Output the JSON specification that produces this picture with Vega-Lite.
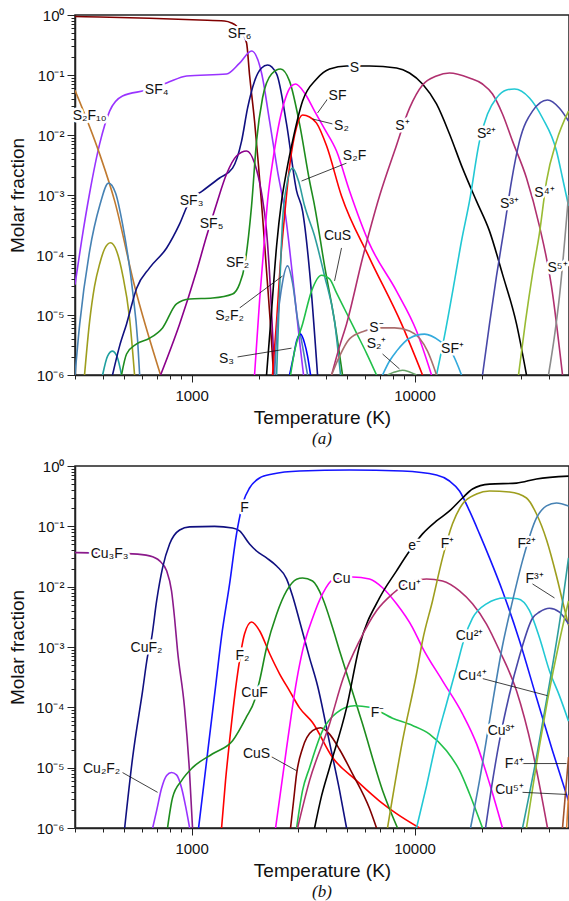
{
"$schema": "https://vega.github.io/schema/vega-lite/v6.json",
"background": "white",
"padding": {"left": 8, "top": 7, "right": 0, "bottom": 0},
"spacing": 10,
"config": {
 "font": "Liberation Sans",
 "view": {"stroke": "#222", "strokeWidth": 1.5},
 "axis": {"domainColor": "#222", "domainWidth": 1.5, "tickColor": "#222", "tickWidth": 1, "labelColor": "#111", "titleColor": "#111", "labelFont": "Liberation Sans", "titleFont": "Liberation Sans", "labelFontSize": 15, "titleFontSize": 19, "titleFontWeight": "normal", "grid": false, "labelOverlap": false, "labelFlush": false},
 "text": {"font": "Liberation Sans", "fontSize": 14}
},
"datasets": {
 "a_curves": [
  {"s":"SF6","T":300,"y":0.944},{"s":"SF6","T":387,"y":0.926},{"s":"SF6","T":648,"y":0.881},{"s":"SF6","T":1086,"y":0.825},{"s":"SF6","T":1404,"y":0.794},{"s":"SF6","T":1511,"y":0.736},{"s":"SF6","T":1591,"y":0.655},{"s":"SF6","T":1676,"y":0.52},{"s":"SF6","T":1765,"y":0.341},{"s":"SF6","T":1820,"y":0.1},{"s":"SF6","T":1916,"y":0.0171},{"s":"SF6","T":1997,"y":0.00304},{"s":"SF6","T":2081,"y":0.000447},{"s":"SF6","T":2169,"y":0.000054},{"s":"SF6","T":2261,"y":0.0000066},{"s":"SF6","T":2332,"y":0.000001},
  {"s":"SF4","T":300,"y":0.000032},{"s":"SF4","T":321,"y":0.000171},{"s":"SF4","T":349,"y":0.00108},{"s":"SF4","T":387,"y":0.0071},{"s":"SF4","T":429,"y":0.025},{"s":"SF4","T":490,"y":0.0447},{"s":"SF4","T":628,"y":0.056},{"s":"SF4","T":773,"y":0.0736},{"s":"SF4","T":950,"y":0.096},{"s":"SF4","T":1435,"y":0.104},{"s":"SF4","T":1642,"y":0.158},{"s":"SF4","T":1858,"y":0.251},{"s":"SF4","T":2060,"y":0.108},{"s":"SF4","T":2238,"y":0.0171},{"s":"SF4","T":2430,"y":0.0025},{"s":"SF4","T":2640,"y":0.000447},{"s":"SF4","T":2838,"y":0.0000447},{"s":"SF4","T":3050,"y":0.0000037},{"s":"SF4","T":3178,"y":0.000001},
  {"s":"S2F10","T":300,"y":0.0556},{"s":"S2F10","T":387,"y":0.0048},{"s":"S2F10","T":452,"y":0.00079},{"s":"S2F10","T":555,"y":0.0000304},{"s":"S2F10","T":726,"y":0.000001},
  {"s":"st","T":300,"y":0.000001},{"s":"st","T":315,"y":0.0000071},{"s":"st","T":349,"y":0.000117},{"s":"st","T":387,"y":0.00066},{"s":"st","T":424,"y":0.00158},{"s":"st","T":456,"y":0.00108},{"s":"st","T":490,"y":0.00033},{"s":"st","T":544,"y":0.000025},{"s":"st","T":573,"y":0.0000037},{"s":"st","T":585,"y":0.000001},
  {"s":"ol","T":331,"y":0.000001},{"s":"ol","T":349,"y":0.0000079},{"s":"ol","T":367,"y":0.00003},{"s":"ol","T":387,"y":0.000071},{"s":"ol","T":407,"y":0.000126},{"s":"ol","T":433,"y":0.00016},{"s":"ol","T":461,"y":0.000117},{"s":"ol","T":490,"y":0.000048},{"s":"ol","T":527,"y":0.0000089},{"s":"ol","T":555,"y":0.000001},
  {"s":"tl","T":399,"y":0.000001},{"s":"tl","T":420,"y":0.00000207},{"s":"tl","T":442,"y":0.0000025},{"s":"tl","T":466,"y":0.0000019},{"s":"tl","T":485,"y":0.000001},
  {"s":"SF3","T":442,"y":0.000001},{"s":"SF3","T":475,"y":0.000003},{"s":"SF3","T":511,"y":0.0000071},{"s":"SF3","T":567,"y":0.000028},{"s":"SF3","T":648,"y":0.000061},{"s":"SF3","T":773,"y":0.000131},{"s":"SF3","T":884,"y":0.00033},{"s":"SF3","T":980,"y":0.00079},{"s":"SF3","T":1120,"y":0.00117},{"s":"SF3","T":1335,"y":0.00192},{"s":"SF3","T":1527,"y":0.0028},{"s":"SF3","T":1676,"y":0.0079},{"s":"SF3","T":1783,"y":0.028},{"s":"SF3","T":1916,"y":0.079},{"s":"SF3","T":2060,"y":0.131},{"s":"SF3","T":2192,"y":0.147},{"s":"SF3","T":2406,"y":0.104},{"s":"SF3","T":2667,"y":0.0153},{"s":"SF3","T":2958,"y":0.00117},{"s":"SF3","T":3147,"y":0.00054},{"s":"SF3","T":3382,"y":0.000054},{"s":"SF3","T":3673,"y":0.000001},
  {"s":"SF5","T":726,"y":0.000001},{"s":"SF5","T":884,"y":0.0000071},{"s":"SF5","T":1053,"y":0.000054},{"s":"SF5","T":1168,"y":0.000207},{"s":"SF5","T":1294,"y":0.00071},{"s":"SF5","T":1435,"y":0.00224},{"s":"SF5","T":1591,"y":0.00447},{"s":"SF5","T":1765,"y":0.0054},{"s":"SF5","T":1916,"y":0.0034},{"s":"SF5","T":2060,"y":0.00108},{"s":"SF5","T":2169,"y":0.00025},{"s":"SF5","T":2261,"y":0.000025},{"s":"SF5","T":2356,"y":0.000001},
  {"s":"SF2","T":485,"y":0.000001},{"s":"SF2","T":511,"y":0.00000224},{"s":"SF2","T":567,"y":0.0000033},{"s":"SF2","T":648,"y":0.0000041},{"s":"SF2","T":741,"y":0.0000061},{"s":"SF2","T":856,"y":0.0000153},{"s":"SF2","T":980,"y":0.0000185},{"s":"SF2","T":1243,"y":0.0000192},{"s":"SF2","T":1527,"y":0.0000224},{"s":"SF2","T":1642,"y":0.000033},{"s":"SF2","T":1729,"y":0.000066},{"s":"SF2","T":1801,"y":0.000207},{"s":"SF2","T":1858,"y":0.00066},{"s":"SF2","T":1956,"y":0.0079},{"s":"SF2","T":2081,"y":0.0414},{"s":"SF2","T":2284,"y":0.104},{"s":"SF2","T":2506,"y":0.126},{"s":"SF2","T":2751,"y":0.079},{"s":"SF2","T":3050,"y":0.0153},{"s":"SF2","T":3382,"y":0.00171},{"s":"SF2","T":3562,"y":0.00066},{"s":"SF2","T":3949,"y":0.000066},{"s":"SF2","T":4378,"y":0.0000079},{"s":"SF2","T":4753,"y":0.000001},
  {"s":"SF","T":1916,"y":0.000001},{"s":"SF","T":2018,"y":0.0000171},{"s":"SF","T":2103,"y":0.000117},{"s":"SF","T":2192,"y":0.00079},{"s":"SF","T":2332,"y":0.00447},{"s":"SF","T":2481,"y":0.0171},{"s":"SF","T":2640,"y":0.0414},{"s":"SF","T":2779,"y":0.063},{"s":"SF","T":2927,"y":0.0708},{"s":"SF","T":3212,"y":0.05},{"s":"SF","T":3562,"y":0.025},{"s":"SF","T":3949,"y":0.0126},{"s":"SF","T":4468,"y":0.0054},{"s":"SF","T":5111,"y":0.00117},{"s":"SF","T":6284,"y":0.000153},{"s":"SF","T":8305,"y":0.000025},{"s":"SF","T":10209,"y":0.0000054},{"s":"SF","T":11919,"y":0.000001},
  {"s":"S2","T":2307,"y":0.000001},{"s":"S2","T":2406,"y":0.0000079},{"s":"S2","T":2506,"y":0.000079},{"s":"S2","T":2612,"y":0.000447},{"s":"S2","T":2751,"y":0.003},{"s":"S2","T":2958,"y":0.0136},{"s":"S2","T":3147,"y":0.0215},{"s":"S2","T":3382,"y":0.02},{"s":"S2","T":3636,"y":0.0158},{"s":"S2","T":4031,"y":0.0066},{"s":"S2","T":4704,"y":0.00096},{"s":"S2","T":6284,"y":0.000089},{"s":"S2","T":8745,"y":0.0000071},{"s":"S2","T":10862,"y":0.000001},
  {"s":"S","T":2169,"y":0.000001},{"s":"S","T":2284,"y":0.0000117},{"s":"S","T":2406,"y":0.000141},{"s":"S","T":2533,"y":0.00079},{"s":"S","T":2667,"y":0.0025},{"s":"S","T":2838,"y":0.0079},{"s":"S","T":3147,"y":0.0369},{"s":"S","T":3636,"y":0.0858},{"s":"S","T":4158,"y":0.126},{"s":"S","T":4956,"y":0.141},{"s":"S","T":6284,"y":0.141},{"s":"S","T":8305,"y":0.131},{"s":"S","T":9497,"y":0.108},{"s":"S","T":10862,"y":0.0708},{"s":"S","T":12548,"y":0.0329},{"s":"S","T":14353,"y":0.0104},{"s":"S","T":16414,"y":0.0028},{"s":"S","T":18967,"y":0.00079},{"s":"S","T":21693,"y":0.00025},{"s":"S","T":24803,"y":0.000048},{"s":"S","T":28668,"y":0.0000071},{"s":"S","T":31781,"y":0.000001},
  {"s":"S2F","T":2406,"y":0.000001},{"s":"S2F","T":2481,"y":0.000025},{"s":"S2F","T":2559,"y":0.00037},{"s":"S2F","T":2667,"y":0.00141},{"s":"S2F","T":2838,"y":0.0028},{"s":"S2F","T":3019,"y":0.00171},{"s":"S2F","T":3212,"y":0.00066},{"s":"S2F","T":3562,"y":0.000207},{"s":"S2F","T":3949,"y":0.0000447},{"s":"S2F","T":4378,"y":0.0000079},{"s":"S2F","T":4658,"y":0.000001},
  {"s":"S2F2","T":2356,"y":0.000001},{"s":"S2F2","T":2430,"y":0.0000079},{"s":"S2F2","T":2533,"y":0.000028},{"s":"S2F2","T":2694,"y":0.000066},{"s":"S2F2","T":2838,"y":0.000034},{"s":"S2F2","T":2988,"y":0.0000085},{"s":"S2F2","T":3147,"y":0.000003},{"s":"S2F2","T":3313,"y":0.000001},
  {"s":"S3","T":2751,"y":0.000001},{"s":"S3","T":2867,"y":0.00000207},{"s":"S3","T":2958,"y":0.0000037},{"s":"S3","T":3083,"y":0.0000048},{"s":"S3","T":3212,"y":0.0000034},{"s":"S3","T":3313,"y":0.00000207},{"s":"S3","T":3417,"y":0.000001},
  {"s":"CuS","T":2779,"y":0.000001},{"s":"CuS","T":2896,"y":0.0000025},{"s":"CuS","T":3147,"y":0.0000071},{"s":"CuS","T":3452,"y":0.000025},{"s":"CuS","T":3828,"y":0.000046},{"s":"CuS","T":4158,"y":0.00004},{"s":"CuS","T":4468,"y":0.0000233},{"s":"CuS","T":4956,"y":0.0000108},{"s":"CuS","T":5494,"y":0.000005},{"s":"CuS","T":6094,"y":0.0000023},{"s":"CuS","T":6755,"y":0.000001},
  {"s":"S+","T":4245,"y":0.000001},{"s":"S+","T":4610,"y":0.000003},{"s":"S+","T":4956,"y":0.0000071},{"s":"S+","T":5847,"y":0.000089},{"s":"S+","T":6967,"y":0.00096},{"s":"S+","T":8136,"y":0.0054},{"s":"S+","T":9497,"y":0.028},{"s":"S+","T":10862,"y":0.068},{"s":"S+","T":12548,"y":0.0963},{"s":"S+","T":14353,"y":0.108},{"s":"S+","T":17645,"y":0.089},{"s":"S+","T":20181,"y":0.0708},{"s":"S+","T":22379,"y":0.0482},{"s":"S+","T":24803,"y":0.0224},{"s":"S+","T":27516,"y":0.0079},{"s":"S+","T":31781,"y":0.00192},{"s":"S+","T":36352,"y":0.0003},{"s":"S+","T":41140,"y":0.0000304},{"s":"S+","T":46109,"y":0.000001},
  {"s":"S2+","T":12548,"y":0.000001},{"s":"S2+","T":13630,"y":0.0000045},{"s":"S2+","T":15113,"y":0.000037},{"s":"S2+","T":16245,"y":0.000171},{"s":"S2+","T":17645,"y":0.00079},{"s":"S2+","T":19565,"y":0.0079},{"s":"S2+","T":21250,"y":0.0224},{"s":"S2+","T":23320,"y":0.0414},{"s":"S2+","T":25853,"y":0.0562},{"s":"S2+","T":28076,"y":0.0585},{"s":"S2+","T":32786,"y":0.0414},{"s":"S2+","T":37502,"y":0.0192},{"s":"S2+","T":43330,"y":0.0054},{"s":"S2+","T":46109,"y":0.00192},{"s":"S2+","T":49060,"y":0.00066},
  {"s":"S3+","T":20181,"y":0.000001},{"s":"S3+","T":21693,"y":0.0000071},{"s":"S3+","T":23320,"y":0.0000447},{"s":"S3+","T":25328,"y":0.0003},{"s":"S3+","T":27227,"y":0.00171},{"s":"S3+","T":29569,"y":0.0079},{"s":"S3+","T":33814,"y":0.025},{"s":"S3+","T":39485,"y":0.0383},{"s":"S3+","T":44690,"y":0.028},{"s":"S3+","T":49060,"y":0.0171},
  {"s":"S4+","T":29265,"y":0.000001},{"s":"S4+","T":31467,"y":0.0000079},{"s":"S4+","T":33814,"y":0.000048},{"s":"S4+","T":36352,"y":0.000233},{"s":"S4+","T":39079,"y":0.00171},{"s":"S4+","T":43330,"y":0.0079},{"s":"S4+","T":49060,"y":0.025},
  {"s":"S5+","T":39889,"y":0.000001},{"s":"S5+","T":42445,"y":0.0000045},{"s":"S5+","T":44690,"y":0.0000207},{"s":"S5+","T":49060,"y":0.001},
  {"s":"S-","T":4245,"y":0.000001},{"s":"S-","T":4610,"y":0.00000207},{"s":"S-","T":5111,"y":0.000004},{"s":"S-","T":5967,"y":0.0000054},{"s":"S-","T":6967,"y":0.0000061},{"s":"S-","T":8136,"y":0.0000061},{"s":"S-","T":9497,"y":0.0000054},{"s":"S-","T":10530,"y":0.0000041},{"s":"S-","T":11435,"y":0.0000025},{"s":"S-","T":12166,"y":0.0000014},{"s":"S-","T":12548,"y":0.000001},
  {"s":"S2p","T":7565,"y":0.000001},{"s":"S2p","T":8136,"y":0.00000112},{"s":"S2p","T":8836,"y":0.0000012},{"s":"S2p","T":9497,"y":0.00000112},{"s":"S2p","T":10209,"y":0.000001},
  {"s":"SF+","T":7188,"y":0.000001},{"s":"SF+","T":7725,"y":0.00000171},{"s":"SF+","T":8305,"y":0.0000025},{"s":"SF+","T":9497,"y":0.0000041},{"s":"SF+","T":11088,"y":0.0000048},{"s":"SF+","T":12945,"y":0.0000037},{"s":"SF+","T":14805,"y":0.00000224},{"s":"SF+","T":16245,"y":0.000001}
 ],
 "a_labels": [
  {"T":1642,"y":0.482,"t":"SF₆"},{"T":697,"y":0.056,"t":"SF₄"},{"T":349,"y":0.0207,"t":"S₂F₁₀"},{"T":1000,"y":0.00079,"t":"SF₃"},{"T":1229,"y":0.00033,"t":"SF₅"},{"T":1608,"y":0.000074,"t":"SF₂"},{"T":1481,"y":0.0000096,"t":"S₂F₂"},{"T":1435,"y":0.00000185,"t":"S₃"},{"T":5381,"y":0.131,"t":"S"},{"T":4516,"y":0.0447,"t":"SF"},{"T":4704,"y":0.0141,"t":"S₂"},{"T":5381,"y":0.00447,"t":"S₂F"},{"T":8836,"y":0.0141,"t":"S⁺"},{"T":21030,"y":0.0104,"t":"S²⁺"},{"T":26668,"y":0.00071,"t":"S³⁺"},{"T":38282,"y":0.00108,"t":"S⁴⁺"},{"T":43770,"y":0.000061,"t":"S⁵⁺"},{"T":4516,"y":0.000207,"t":"CuS"},{"T":6755,"y":0.0000061,"t":"S⁻"},{"T":6755,"y":0.0000033,"t":"S₂⁺"},{"T":14805,"y":0.0000027,"t":"SF⁺"}
 ],
 "a_arrows": [
  {"T":4073,"y":0.0398,"T2":3673,"y2":0.0233},{"T":4288,"y":0.0153,"T2":3488,"y2":0.0185},{"T":4956,"y":0.0034,"T2":3113,"y2":0.00171},{"T":4704,"y":0.000131,"T2":4378,"y2":0.000037},{"T":1642,"y":0.0000131,"T2":2559,"y2":0.0000447},{"T":1608,"y":0.000002,"T2":2807,"y2":0.0000028},{"T":7188,"y":0.00000224,"T2":8565,"y2":0.00000126}
 ],
 "b_curves": [
  {"s":"Cu3F3","T":300,"y":0.0367},{"s":"Cu3F3","T":349,"y":0.0363},{"s":"Cu3F3","T":544,"y":0.035},{"s":"Cu3F3","T":648,"y":0.0324},{"s":"Cu3F3","T":719,"y":0.0267},{"s":"Cu3F3","T":773,"y":0.0183},{"s":"Cu3F3","T":813,"y":0.0085},{"s":"Cu3F3","T":839,"y":0.003},{"s":"Cu3F3","T":865,"y":0.00087},{"s":"Cu3F3","T":930,"y":0.000098},{"s":"Cu3F3","T":980,"y":0.0000079},{"s":"Cu3F3","T":1010,"y":0.000001},
  {"s":"CuF2","T":501,"y":0.000001},{"s":"CuF2","T":544,"y":0.0000147},{"s":"CuF2","T":603,"y":0.000188},{"s":"CuF2","T":635,"y":0.00071},{"s":"CuF2","T":662,"y":0.00142},{"s":"CuF2","T":697,"y":0.0058},{"s":"CuF2","T":741,"y":0.0205},{"s":"CuF2","T":797,"y":0.051},{"s":"CuF2","T":884,"y":0.087},{"s":"CuF2","T":980,"y":0.098},{"s":"CuF2","T":1268,"y":0.1},{"s":"CuF2","T":1527,"y":0.094},{"s":"CuF2","T":1642,"y":0.084},{"s":"CuF2","T":1820,"y":0.051},{"s":"CuF2","T":1956,"y":0.039},{"s":"CuF2","T":2169,"y":0.03},{"s":"CuF2","T":2406,"y":0.022},{"s":"CuF2","T":2667,"y":0.0135},{"s":"CuF2","T":2838,"y":0.007},{"s":"CuF2","T":3050,"y":0.0027},{"s":"CuF2","T":3382,"y":0.00066},{"s":"CuF2","T":3673,"y":0.000228},{"s":"CuF2","T":4158,"y":0.000026},{"s":"CuF2","T":4610,"y":0.0000042},{"s":"CuF2","T":4956,"y":0.000001},
  {"s":"Cu2F2","T":669,"y":0.000001},{"s":"Cu2F2","T":697,"y":0.00000194},{"s":"Cu2F2","T":733,"y":0.0000045},{"s":"Cu2F2","T":773,"y":0.0000074},{"s":"Cu2F2","T":813,"y":0.0000083},{"s":"Cu2F2","T":856,"y":0.0000076},{"s":"Cu2F2","T":902,"y":0.0000046},{"s":"Cu2F2","T":940,"y":0.0000023},{"s":"Cu2F2","T":980,"y":0.000001},
  {"s":"F","T":1075,"y":0.000001},{"s":"F","T":1132,"y":0.0000049},{"s":"F","T":1204,"y":0.000033},{"s":"F","T":1281,"y":0.00022},{"s":"F","T":1363,"y":0.0015},{"s":"F","T":1481,"y":0.0111},{"s":"F","T":1591,"y":0.0748},{"s":"F","T":1711,"y":0.263},{"s":"F","T":1820,"y":0.432},{"s":"F","T":2018,"y":0.633},{"s":"F","T":2307,"y":0.737},{"s":"F","T":3050,"y":0.826},{"s":"F","T":5111,"y":0.86},{"s":"F","T":8836,"y":0.826},{"s":"F","T":12548,"y":0.71},{"s":"F","T":14353,"y":0.564},{"s":"F","T":15914,"y":0.385},{"s":"F","T":17645,"y":0.18},{"s":"F","T":19565,"y":0.075},{"s":"F","T":21693,"y":0.03},{"s":"F","T":24803,"y":0.0085},{"s":"F","T":29569,"y":0.00127},{"s":"F","T":35250,"y":0.000144},{"s":"F","T":41575,"y":0.0000191},{"s":"F","T":49060,"y":0.0000028},
  {"s":"F2","T":1363,"y":0.000001},{"s":"F2","T":1420,"y":0.0000061},{"s":"F2","T":1481,"y":0.000028},{"s":"F2","T":1608,"y":0.00036},{"s":"F2","T":1729,"y":0.00166},{"s":"F2","T":1858,"y":0.0026},{"s":"F2","T":2018,"y":0.00186},{"s":"F2","T":2238,"y":0.00078},{"s":"F2","T":2481,"y":0.00036},{"s":"F2","T":2751,"y":0.000188},{"s":"F2","T":3050,"y":0.000098},{"s":"F2","T":3488,"y":0.000056},{"s":"F2","T":4288,"y":0.0000147},{"s":"F2","T":5494,"y":0.0000061},{"s":"F2","T":6967,"y":0.0000028},{"s":"F2","T":8305,"y":0.00000173},{"s":"F2","T":10530,"y":0.000001},
  {"s":"CuF","T":780,"y":0.000001},{"s":"CuF","T":822,"y":0.0000032},{"s":"CuF","T":902,"y":0.0000061},{"s":"CuF","T":1010,"y":0.00001},{"s":"CuF","T":1243,"y":0.000017},{"s":"CuF","T":1527,"y":0.000028},{"s":"CuF","T":1765,"y":0.00007},{"s":"CuF","T":1916,"y":0.00013},{"s":"CuF","T":2018,"y":0.000275},{"s":"CuF","T":2169,"y":0.00097},{"s":"CuF","T":2406,"y":0.0035},{"s":"CuF","T":2667,"y":0.0085},{"s":"CuF","T":2958,"y":0.0133},{"s":"CuF","T":3147,"y":0.0139},{"s":"CuF","T":3488,"y":0.0124},{"s":"CuF","T":3868,"y":0.0065},{"s":"CuF","T":4288,"y":0.0021},{"s":"CuF","T":4610,"y":0.00087},{"s":"CuF","T":5847,"y":0.000053},{"s":"CuF","T":7188,"y":0.0000042},{"s":"CuF","T":8389,"y":0.000001},
  {"s":"Cu","T":2381,"y":0.000001},{"s":"Cu","T":2667,"y":0.000021},{"s":"Cu","T":2958,"y":0.000275},{"s":"Cu","T":3147,"y":0.00087},{"s":"Cu","T":3488,"y":0.003},{"s":"Cu","T":3868,"y":0.0076},{"s":"Cu","T":4288,"y":0.0129},{"s":"Cu","T":5272,"y":0.0145},{"s":"Cu","T":6284,"y":0.0134},{"s":"Cu","T":7188,"y":0.0096},{"s":"Cu","T":8305,"y":0.0052},{"s":"Cu","T":9795,"y":0.0021},{"s":"Cu","T":10862,"y":0.00097},{"s":"Cu","T":13354,"y":0.000275},{"s":"Cu","T":16414,"y":0.000078},{"s":"Cu","T":18967,"y":0.000025},{"s":"Cu","T":21693,"y":0.0000055},{"s":"Cu","T":24803,"y":0.000001},
  {"s":"CuS","T":2779,"y":0.000001},{"s":"CuS","T":2867,"y":0.0000028},{"s":"CuS","T":2958,"y":0.0000079},{"s":"CuS","T":3147,"y":0.000021},{"s":"CuS","T":3488,"y":0.000041},{"s":"CuS","T":3789,"y":0.000046},{"s":"CuS","T":4158,"y":0.000036},{"s":"CuS","T":4610,"y":0.00002},{"s":"CuS","T":5272,"y":0.0000079},{"s":"CuS","T":6284,"y":0.0000021},{"s":"CuS","T":6755,"y":0.000001},
  {"s":"F-","T":2958,"y":0.000001},{"s":"F-","T":3147,"y":0.0000042},{"s":"F-","T":3382,"y":0.00001},{"s":"F-","T":3868,"y":0.000041},{"s":"F-","T":4468,"y":0.000081},{"s":"F-","T":5381,"y":0.000106},{"s":"F-","T":6284,"y":0.0001},{"s":"F-","T":7967,"y":0.000066},{"s":"F-","T":9795,"y":0.00005},{"s":"F-","T":11675,"y":0.000036},{"s":"F-","T":13918,"y":0.000019},{"s":"F-","T":15914,"y":0.000009},{"s":"F-","T":17645,"y":0.0000037},{"s":"F-","T":20181,"y":0.000001},
  {"s":"e-","T":3562,"y":0.000001},{"s":"e-","T":3828,"y":0.0000034},{"s":"e-","T":4158,"y":0.00001},{"s":"e-","T":4956,"y":0.000098},{"s":"e-","T":5667,"y":0.00105},{"s":"e-","T":6967,"y":0.0065},{"s":"e-","T":8305,"y":0.0183},{"s":"e-","T":9497,"y":0.039},{"s":"e-","T":10862,"y":0.075},{"s":"e-","T":12548,"y":0.123},{"s":"e-","T":14353,"y":0.18},{"s":"e-","T":16414,"y":0.295},{"s":"e-","T":18200,"y":0.416},{"s":"e-","T":21693,"y":0.5},{"s":"e-","T":28668,"y":0.52},{"s":"e-","T":35250,"y":0.61},{"s":"e-","T":49060,"y":0.68},
  {"s":"Cu+","T":2988,"y":0.000001},{"s":"Cu+","T":3382,"y":0.0000061},{"s":"Cu+","T":4158,"y":0.000053},{"s":"Cu+","T":4782,"y":0.0003},{"s":"Cu+","T":5667,"y":0.00127},{"s":"Cu+","T":6755,"y":0.004},{"s":"Cu+","T":7967,"y":0.0076},{"s":"Cu+","T":9497,"y":0.012},{"s":"Cu+","T":11321,"y":0.0134},{"s":"Cu+","T":13354,"y":0.0124},{"s":"Cu+","T":15914,"y":0.0085},{"s":"Cu+","T":18200,"y":0.0052},{"s":"Cu+","T":21030,"y":0.0024},{"s":"Cu+","T":24052,"y":0.00087},{"s":"Cu+","T":28668,"y":0.000188},{"s":"Cu+","T":33814,"y":0.000019},{"s":"Cu+","T":39485,"y":0.000001},
  {"s":"F+","T":7565,"y":0.000001},{"s":"F+","T":8836,"y":0.000028},{"s":"F+","T":10209,"y":0.00036},{"s":"F+","T":10862,"y":0.00127},{"s":"F+","T":12040,"y":0.0058},{"s":"F+","T":13354,"y":0.03},{"s":"F+","T":14805,"y":0.11},{"s":"F+","T":16414,"y":0.235},{"s":"F+","T":18967,"y":0.344},{"s":"F+","T":21693,"y":0.386},{"s":"F+","T":26668,"y":0.37},{"s":"F+","T":31781,"y":0.295},{"s":"F+","T":35250,"y":0.16},{"s":"F+","T":39079,"y":0.06},{"s":"F+","T":43330,"y":0.015},{"s":"F+","T":46109,"y":0.0058},{"s":"F+","T":49060,"y":0.0023},
  {"s":"Cu2+","T":10209,"y":0.000001},{"s":"Cu2+","T":11321,"y":0.000005},{"s":"Cu2+","T":12548,"y":0.000028},{"s":"Cu2+","T":13918,"y":0.000115},{"s":"Cu2+","T":15430,"y":0.00046},{"s":"Cu2+","T":16760,"y":0.00142},{"s":"Cu2+","T":18200,"y":0.003},{"s":"Cu2+","T":21030,"y":0.0052},{"s":"Cu2+","T":25328,"y":0.0065},{"s":"Cu2+","T":28963,"y":0.0063},{"s":"Cu2+","T":32786,"y":0.004},{"s":"Cu2+","T":36352,"y":0.00142},{"s":"Cu2+","T":40306,"y":0.0004},{"s":"Cu2+","T":44690,"y":0.000155},{"s":"Cu2+","T":49060,"y":0.000059},
  {"s":"F2+","T":17831,"y":0.000001},{"s":"F2+","T":19565,"y":0.0000061},{"s":"F2+","T":21693,"y":0.000059},{"s":"F2+","T":24803,"y":0.00105},{"s":"F2+","T":27516,"y":0.0058},{"s":"F2+","T":30506,"y":0.027},{"s":"F2+","T":35250,"y":0.138},{"s":"F2+","T":39079,"y":0.218},{"s":"F2+","T":43330,"y":0.244},{"s":"F2+","T":49060,"y":0.218},
  {"s":"Cu3+","T":20820,"y":0.000001},{"s":"Cu3+","T":22000,"y":0.000004},{"s":"Cu3+","T":24052,"y":0.000028},{"s":"Cu3+","T":26500,"y":0.00015},{"s":"Cu3+","T":29569,"y":0.00071},{"s":"Cu3+","T":33814,"y":0.003},{"s":"Cu3+","T":36352,"y":0.0038},{"s":"Cu3+","T":40306,"y":0.0044},{"s":"Cu3+","T":44690,"y":0.0038},{"s":"Cu3+","T":49060,"y":0.0024},
  {"s":"F3+","T":30506,"y":0.000001},{"s":"F3+","T":35250,"y":0.000015},{"s":"F3+","T":40306,"y":0.00025},{"s":"F3+","T":44690,"y":0.0025},{"s":"F3+","T":49060,"y":0.03},
  {"s":"Cu4+","T":31781,"y":0.000001},{"s":"Cu4+","T":36352,"y":0.000023},{"s":"Cu4+","T":39485,"y":0.00013},{"s":"Cu4+","T":44690,"y":0.00127},{"s":"Cu4+","T":49060,"y":0.0058},
  {"s":"F4+","T":46109,"y":0.000001},{"s":"F4+","T":49060,"y":0.000015},
  {"s":"Cu5+","T":48100,"y":0.000001},{"s":"Cu5+","T":49060,"y":0.0000035}
 ],
 "b_labels": [
  {"T":429,"y":0.035,"t":"Cu₃F₃"},{"T":628,"y":0.00097,"t":"CuF₂"},{"T":1729,"y":0.2,"t":"F"},{"T":1693,"y":0.00071,"t":"F₂"},{"T":1916,"y":0.000175,"t":"CuF"},{"T":395,"y":0.0000096,"t":"Cu₂F₂"},{"T":1956,"y":0.000017,"t":"CuS"},{"T":4704,"y":0.0134,"t":"Cu"},{"T":10000,"y":0.047,"t":"e⁻"},{"T":14060,"y":0.051,"t":"F⁺"},{"T":9497,"y":0.0103,"t":"Cu⁺"},{"T":31781,"y":0.051,"t":"F²⁺"},{"T":34523,"y":0.0134,"t":"F³⁺"},{"T":17645,"y":0.00153,"t":"Cu²⁺"},{"T":6825,"y":0.000081,"t":"F⁻"},{"T":18200,"y":0.00033,"t":"Cu⁴⁺"},{"T":24550,"y":0.000041,"t":"Cu³⁺"},{"T":28076,"y":0.0000116,"t":"F⁴⁺"},{"T":26668,"y":0.0000042,"t":"Cu⁵⁺"}
 ],
 "b_arrows": [
  {"T":490,"y":0.0000083,"T2":704,"y2":0.0000039},{"T":2238,"y":0.0000158,"T2":2958,"y2":0.0000089},{"T":33814,"y":0.0111,"T2":42445,"y2":0.0065},{"T":20181,"y":0.0003,"T2":39485,"y2":0.000156},{"T":28963,"y":0.0000117,"T2":48050,"y2":0.0000117},{"T":30506,"y":0.0000039,"T2":48050,"y2":0.0000036}
 ]
},
"resolve": {"scale": {"color": "independent"}},
"vconcat": [
 {
  "width": 494, "height": 360,
  "title": {"text": "(a)", "orient": "bottom", "font": "Liberation Serif", "fontStyle": "italic", "fontSize": 17, "fontWeight": "normal", "offset": 4, "color": "#111"},
  "encoding": {
   "x": {"field": "T", "type": "quantitative", "scale": {"type": "log", "domain": [300, 49300], "nice": false},
     "axis": {"title": "Temperature (K)", "values": [300,400,500,600,700,800,900,1000,2000,3000,4000,5000,6000,7000,8000,9000,10000,20000,30000,40000], "labelExpr": "datum.value == 1000 || datum.value == 10000 ? format(datum.value, 'd') : ''", "tickSize": {"condition": {"test": "datum.value == 1000 || datum.value == 10000", "value": 7}, "value": 4}, "labelPadding": 6, "titlePadding": 5}},
   "y": {"field": "y", "type": "quantitative", "scale": {"type": "log", "domain": [0.000001, 1], "nice": false},
     "axis": {"title": "Molar fraction", "values": [0.000001,0.000002,0.000003,0.000004,0.000005,0.000006,0.000007,0.000008,0.000009,0.00001,0.00002,0.00003,0.00004,0.00005,0.00006,0.00007,0.00008,0.00009,0.0001,0.0002,0.0003,0.0004,0.0005,0.0006,0.0007,0.0008,0.0009,0.001,0.002,0.003,0.004,0.005,0.006,0.007,0.008,0.009,0.01,0.02,0.03,0.04,0.05,0.06,0.07,0.08,0.09,0.1,0.2,0.3,0.4,0.5,0.6,0.7,0.8,0.9,1], "labelExpr": "datum.value == 1 ? '10⁰' : datum.value == 0.1 ? '10⁻¹' : datum.value == 0.01 ? '10⁻²' : datum.value == 0.001 ? '10⁻³' : datum.value == 0.0001 ? '10⁻⁴' : datum.value == 0.00001 ? '10⁻⁵' : datum.value == 0.000001 ? '10⁻⁶' : ''", "tickSize": {"condition": {"test": "indexof([1,0.1,0.01,0.001,0.0001,0.00001,0.000001], datum.value) >= 0", "value": 8}, "value": 4}, "labelPadding": 3, "titlePadding": 8}}
  },
  "layer": [
   {"data": {"name": "a_curves"}, "mark": {"type": "line", "interpolate": "monotone", "clip": true, "strokeWidth": 1.6},
    "encoding": {
     "color": {"field": "s", "type": "nominal", "legend": null, "scale": {"domain": ["SF6","SF4","S2F10","st","ol","tl","SF3","SF5","SF2","SF","S2","S","S2F","S2F2","S3","CuS","S+","S2+","S3+","S4+","S5+","S-","S2p","SF+"], "range": ["#800000","#9933FF","#C07A30","#4682B4","#9E9E1E","#20A0A0","#101080","#8B008B","#1E8C1E","#FF00FF","#FF0000","#000000","#2E9E9E","#4A7FB5","#0000FF","#22C04A","#B0306F","#22C8D4","#4848A8","#99BB33","#8C8C8C","#AA6E6E","#66A066","#33AADD"]}}
    }},
   {"data": {"name": "a_arrows"}, "mark": {"type": "rule", "color": "#111", "strokeWidth": 0.8},
    "encoding": {"x2": {"field": "T2"}, "y2": {"field": "y2"}}},
   {"data": {"name": "a_labels"}, "mark": {"type": "text", "stroke": "white", "strokeWidth": 5, "strokeJoin": "round", "fill": "white"},
    "encoding": {"text": {"field": "t"}}},
   {"data": {"name": "a_labels"}, "mark": {"type": "text", "color": "#111"},
    "encoding": {"text": {"field": "t"}}}
  ]
 },
 {
  "width": 494, "height": 362,
  "title": {"text": "(b)", "orient": "bottom", "font": "Liberation Serif", "fontStyle": "italic", "fontSize": 17, "fontWeight": "normal", "offset": 4, "color": "#111"},
  "encoding": {
   "x": {"field": "T", "type": "quantitative", "scale": {"type": "log", "domain": [300, 49300], "nice": false},
     "axis": {"title": "Temperature (K)", "values": [300,400,500,600,700,800,900,1000,2000,3000,4000,5000,6000,7000,8000,9000,10000,20000,30000,40000], "labelExpr": "datum.value == 1000 || datum.value == 10000 ? format(datum.value, 'd') : ''", "tickSize": {"condition": {"test": "datum.value == 1000 || datum.value == 10000", "value": 7}, "value": 4}, "labelPadding": 6, "titlePadding": 5}},
   "y": {"field": "y", "type": "quantitative", "scale": {"type": "log", "domain": [0.000001, 1], "nice": false},
     "axis": {"title": "Molar fraction", "values": [0.000001,0.000002,0.000003,0.000004,0.000005,0.000006,0.000007,0.000008,0.000009,0.00001,0.00002,0.00003,0.00004,0.00005,0.00006,0.00007,0.00008,0.00009,0.0001,0.0002,0.0003,0.0004,0.0005,0.0006,0.0007,0.0008,0.0009,0.001,0.002,0.003,0.004,0.005,0.006,0.007,0.008,0.009,0.01,0.02,0.03,0.04,0.05,0.06,0.07,0.08,0.09,0.1,0.2,0.3,0.4,0.5,0.6,0.7,0.8,0.9,1], "labelExpr": "datum.value == 1 ? '10⁰' : datum.value == 0.1 ? '10⁻¹' : datum.value == 0.01 ? '10⁻²' : datum.value == 0.001 ? '10⁻³' : datum.value == 0.0001 ? '10⁻⁴' : datum.value == 0.00001 ? '10⁻⁵' : datum.value == 0.000001 ? '10⁻⁶' : ''", "tickSize": {"condition": {"test": "indexof([1,0.1,0.01,0.001,0.0001,0.00001,0.000001], datum.value) >= 0", "value": 8}, "value": 4}, "labelPadding": 3, "titlePadding": 8}}
  },
  "layer": [
   {"data": {"name": "b_curves"}, "mark": {"type": "line", "interpolate": "monotone", "clip": true, "strokeWidth": 1.6},
    "encoding": {
     "color": {"field": "s", "type": "nominal", "legend": null, "scale": {"domain": ["Cu3F3","CuF2","Cu2F2","F","F2","CuF","Cu","CuS","F-","e-","Cu+","F+","Cu2+","F2+","Cu3+","F3+","Cu4+","F4+","Cu5+"], "range": ["#8B1A8B","#101080","#9933FF","#1414FF","#FF0000","#1E8C1E","#FF00FF","#800000","#22C04A","#000000","#B0306F","#9E9E1E","#22C8D4","#4682B4","#4848A8","#2E9E9E","#99BB33","#A0522D","#E08030"]}}
    }},
   {"data": {"name": "b_arrows"}, "mark": {"type": "rule", "color": "#111", "strokeWidth": 0.8},
    "encoding": {"x2": {"field": "T2"}, "y2": {"field": "y2"}}},
   {"data": {"name": "b_labels"}, "mark": {"type": "text", "stroke": "white", "strokeWidth": 5, "strokeJoin": "round", "fill": "white"},
    "encoding": {"text": {"field": "t"}}},
   {"data": {"name": "b_labels"}, "mark": {"type": "text", "color": "#111"},
    "encoding": {"text": {"field": "t"}}}
  ]
 }
]
}
